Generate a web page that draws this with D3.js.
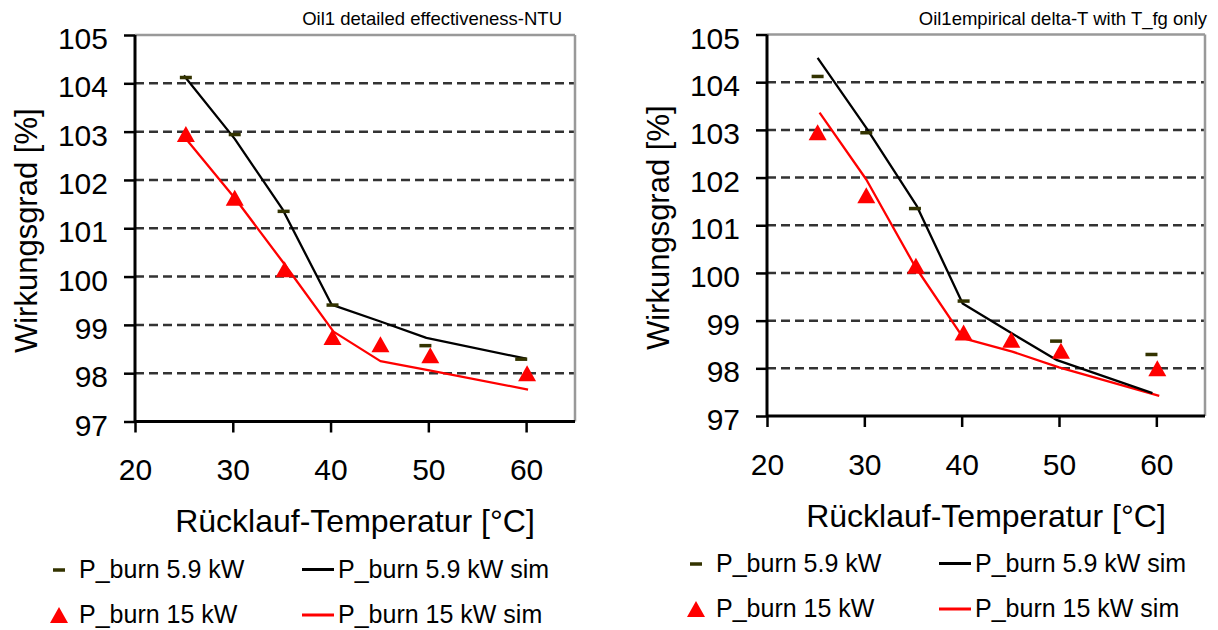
<!DOCTYPE html>
<html><head><meta charset="utf-8">
<script src="https://cdn.jsdelivr.net/npm/d3@7"></script>
<style>
html,body{margin:0;padding:0;background:#fff;}
text{font-family:"Liberation Sans",Arial,sans-serif;fill:#000;}
</style></head>
<body><svg id="c" width="1218" height="630"></svg>
<script>
// ---- data ----
const xTicks = [20, 30, 40, 50, 60];
const yTicks = [97, 98, 99, 100, 101, 102, 103, 104, 105];
const gridTicks = [98, 99, 100, 101, 102, 103, 104];
const chartTitles = ["Oil1 detailed effectiveness-NTU", "Oil1empirical delta-T with T_fg only"];
const xTitle = "Rücklauf-Temperatur [°C]";
const yTitle = "Wirkungsgrad [%]";
const legendLabels = ["P_burn 5.9 kW", "P_burn 5.9 kW sim", "P_burn 15 kW", "P_burn 15 kW sim"];

// measured (shared by both panels)
const measTemp59 = [25.2, 30.2, 35.2, 40.2, 49.7, 59.5];
const meas59     = [104.12, 102.94, 101.35, 99.41, 98.57, 98.29];
const measTemp15 = [25.2, 30.2, 35.3, 40.2, 45.1, 50.2, 60.1];
const meas15     = [102.95, 101.63, 100.15, 98.75, 98.6, 98.37, 98.0];
// simulation, left panel (effectiveness-NTU)
const simTempL59 = [25.0, 30.2, 35.1, 40.1, 45.1, 49.8, 60.0];
const simL59     = [104.16, 102.85, 101.39, 99.42, 99.07, 98.73, 98.3];
const simTempL15 = [25.1, 30.3, 35.2, 40.3, 45.1, 50.1, 60.2];
const simL15     = [102.88, 101.6, 100.28, 98.86, 98.25, 98.06, 97.66];
// simulation, right panel (empirical delta-T)
const simTempR59 = [25.2, 30.2, 35.4, 40.1, 45.1, 49.8, 59.6];
const simR59     = [104.51, 103.04, 101.40, 99.36, 98.74, 98.17, 97.48];
const simTempR15 = [25.4, 30.2, 35.2, 40.2, 45.2, 50.0, 60.3];
const simR15     = [103.36, 101.96, 100.14, 98.63, 98.35, 98.02, 97.42];

const zip = (xs, ys) => xs.map((x, i) => ({x, y: ys[i]}));

const panels = [
  {left: 135, right: 575, top: 35, bottom: 421.5, title: chartTitles[0], titleEnd: 562,
   sim59: zip(simTempL59, simL59), sim15: zip(simTempL15, simL15), legX: 0, legY: 0, yTitleX: 37},
  {left: 767, right: 1205, top: 34.5, bottom: 416, title: chartTitles[1], titleEnd: 1207,
   sim59: zip(simTempR59, simR59), sim15: zip(simTempR15, simR15), legX: 637, legY: -6, yTitleX: 669}
];

const svg = d3.select("#c");
svg.append("rect").attr("width", 1218).attr("height", 630).attr("fill", "#fff");

const GRID = "#333";
const OLIVE = "#333300";
const RED = "#ff0000";

panels.forEach(p => {
  const x = d3.scaleLinear().domain([20, 65]).range([p.left, p.right]);
  const y = d3.scaleLinear().domain([97, 105]).range([p.bottom, p.top]);
  const g = svg.append("g");

  g.selectAll("line.grid").data(gridTicks).join("line")
    .attr("x1", x(20)).attr("x2", x(65))
    .attr("y1", d => y(d)).attr("y2", d => y(d))
    .attr("stroke", GRID).attr("stroke-width", 2.5).attr("stroke-dasharray", "9,5");

  g.append("line").attr("x1", x(20)).attr("x2", x(65)).attr("y1", y(105)).attr("y2", y(105))
    .attr("stroke", "#999").attr("stroke-width", 2.5);
  g.append("line").attr("x1", x(65)).attr("x2", x(65)).attr("y1", y(105)).attr("y2", y(97))
    .attr("stroke", "#999").attr("stroke-width", 2.5);

  const ya = g.append("g").attr("transform", `translate(${x(20)},0)`)
    .call(d3.axisLeft(y).tickValues(yTicks).tickSize(11).tickPadding(16).tickFormat(d3.format("d")));
  const xa = g.append("g").attr("transform", `translate(0,${y(97)})`)
    .call(d3.axisBottom(x).tickValues(xTicks).tickSize(11).tickPadding(0).tickFormat(d3.format("d")));
  [ya, xa].forEach(a => {
    a.select(".domain").attr("stroke", "#000").attr("stroke-width", 3);
    a.selectAll(".tick line").attr("stroke", "#000").attr("stroke-width", 2.5);
    a.selectAll("text").attr("font-size", 30).attr("font-family", '"Liberation Sans",Arial,sans-serif').attr("fill", "#000");
  });
  ya.select(".domain").attr("d", `M0,${y(105)}V${y(97)}`);
  xa.select(".domain").attr("d", `M${x(20)},0H${x(65)}`);
  ya.selectAll("text").attr("dy", "13.5px");
  xa.selectAll("text").attr("y", 58.5).attr("dy", null);

  const line = d3.line().x(d => x(d.x)).y(d => y(d.y));
  g.append("path").datum(p.sim15).attr("d", line).attr("fill", "none")
    .attr("stroke", RED).attr("stroke-width", 2.3).attr("stroke-linejoin", "round");
  g.append("path").datum(p.sim59).attr("d", line).attr("fill", "none")
    .attr("stroke", "#000").attr("stroke-width", 2.3).attr("stroke-linejoin", "round");

  g.selectAll("rect.m59").data(zip(measTemp59, meas59)).join("rect")
    .attr("x", d => x(d.x) - 6).attr("y", d => y(d.y) - 1.75)
    .attr("width", 12).attr("height", 3.5).attr("fill", OLIVE);
  g.selectAll("path.m15").data(zip(measTemp15, meas15)).join("path")
    .attr("d", d => { const cx = x(d.x), cy = y(d.y); return `M${cx - 9},${cy + 8}L${cx + 9},${cy + 8}L${cx},${cy - 8}Z`; })
    .attr("fill", RED);

  g.append("text").attr("x", p.titleEnd).attr("y", 25).attr("text-anchor", "end")
    .attr("font-size", 18.5).text(p.title);
  g.append("text").attr("x", (x(20) + x(65)) / 2).attr("y", p.bottom + 110.5).attr("text-anchor", "middle")
    .attr("font-size", 32).text(xTitle);
  g.append("text").attr("transform", `translate(${p.yTitleX},${(p.top + p.bottom) / 2 + 2.5}) rotate(-90)`)
    .attr("text-anchor", "middle").attr("font-size", 31).text(yTitle);

  const L = g.append("g").attr("transform", `translate(${p.legX},${p.legY})`);
  L.append("rect").attr("x", 53).attr("y", 568.25).attr("width", 12).attr("height", 3.5).attr("fill", OLIVE);
  L.append("path").attr("d", "M50,623L68,623L59,607Z").attr("fill", RED);
  L.append("line").attr("x1", 302).attr("x2", 334).attr("y1", 569.5).attr("y2", 569.5).attr("stroke", "#000").attr("stroke-width", 3);
  L.append("line").attr("x1", 302).attr("x2", 334).attr("y1", 615).attr("y2", 615).attr("stroke", RED).attr("stroke-width", 3);
  const lt = [[79, 577.5, 0], [338, 577.5, 1], [79, 623, 2], [338, 623, 3]];
  lt.forEach(([tx, ty, i]) => L.append("text").attr("x", tx).attr("y", ty).attr("font-size", 25).text(legendLabels[i]));
});
</script></body></html>
